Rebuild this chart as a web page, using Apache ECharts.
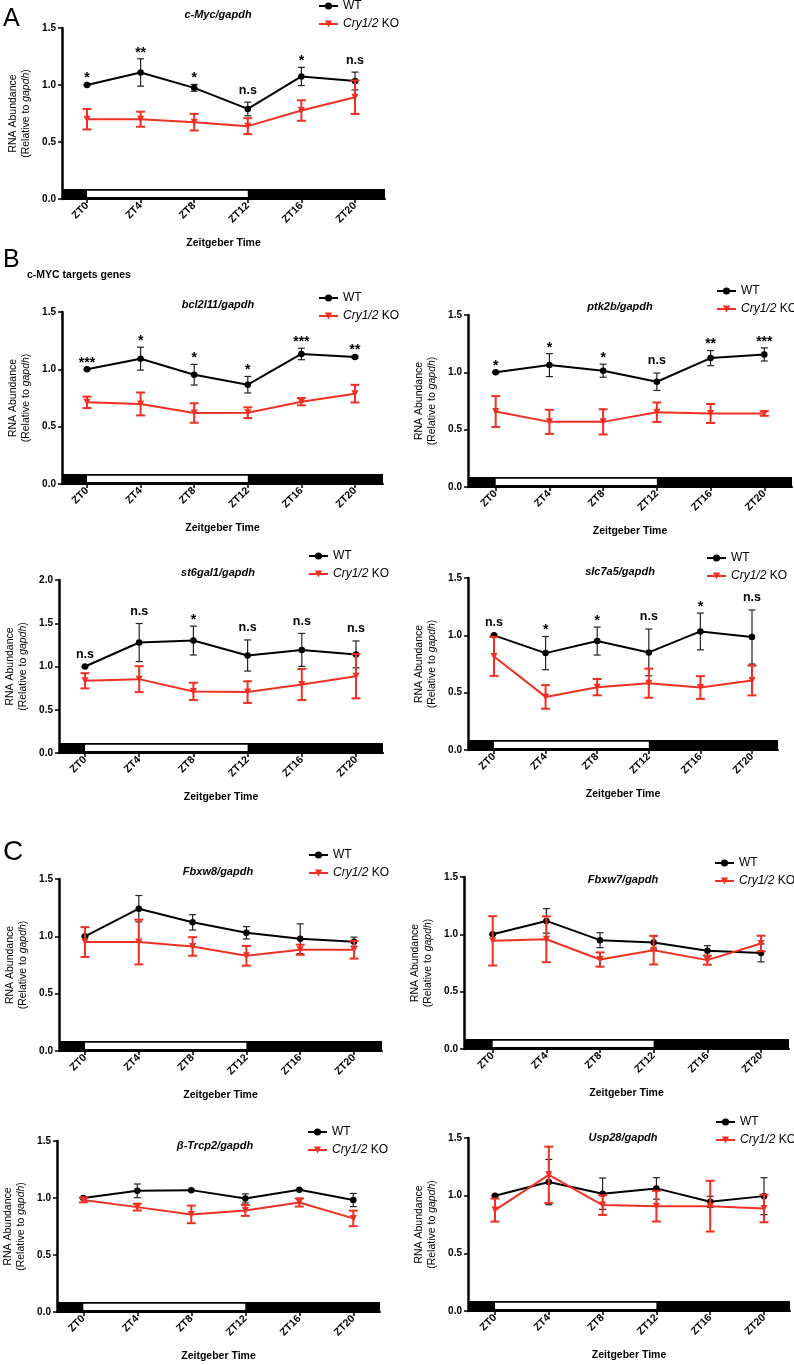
<!DOCTYPE html>
<html><head><meta charset="utf-8">
<script src="https://cdn.jsdelivr.net/npm/echarts@6/dist/echarts.min.js"></script>
<style>html,body{margin:0;padding:0;background:#fff}#c{width:794px;height:1365px}</style>
</head><body><div id="c"></div>
<script>
// ---------------- DATA ----------------
const zt = [0, 4, 8, 12, 16, 20];
const lightPhase = [0, 12];
const seriesNames = ['WT', 'Cry1/2 KO'];

const cmycWT = [1.00, 1.11, 0.975, 0.79, 1.075, 1.035];
const cmycWTerr = [0.005, 0.12, 0.03, 0.06, 0.08, 0.078];
const cmycKO = [0.70, 0.70, 0.674, 0.639, 0.776, 0.893];
const cmycKOerr = [0.09, 0.066, 0.073, 0.07, 0.09, 0.147];
const cmycSig = ['*', '**', '*', 'n.s', '*', 'n.s'];

const bclWT = [1.00, 1.093, 0.953, 0.866, 1.134, 1.108];
const bclWTerr = [0.005, 0.10, 0.09, 0.072, 0.05, 0.01];
const bclKO = [0.712, 0.698, 0.619, 0.622, 0.718, 0.788];
const bclKOerr = [0.05, 0.10, 0.085, 0.047, 0.032, 0.077];
const bclSig = ['***', '*', '*', '*', '***', '**'];

const ptkWT = [1.00, 1.063, 1.014, 0.918, 1.124, 1.156];
const ptkWTerr = [0.005, 0.10, 0.057, 0.076, 0.066, 0.057];
const ptkKO = [0.658, 0.568, 0.568, 0.652, 0.641, 0.641];
const ptkKOerr = [0.135, 0.105, 0.11, 0.085, 0.083, 0.02];
const ptkSig = ['*', '*', '*', 'n.s', '**', '***'];

const st6WT = [1.00, 1.277, 1.30, 1.127, 1.192, 1.14];
const st6WTerr = [0.005, 0.22, 0.167, 0.18, 0.19, 0.155];
const st6KO = [0.835, 0.854, 0.712, 0.704, 0.792, 0.888];
const st6KOerr = [0.088, 0.15, 0.10, 0.125, 0.18, 0.256];
const st6Sig = ['n.s', 'n.s', '*', 'n.s', 'n.s', 'n.s'];

const slcWT = [1.00, 0.845, 0.95, 0.851, 1.034, 0.985];
const slcWTerr = [0.005, 0.145, 0.122, 0.204, 0.16, 0.236];
const slcKO = [0.816, 0.463, 0.548, 0.583, 0.545, 0.606];
const slcKOerr = [0.17, 0.103, 0.071, 0.127, 0.099, 0.13];
const slcSig = ['n.s', '*', '*', 'n.s', '*', 'n.s'];

const fbxw8WT = [1.00, 1.241, 1.122, 1.031, 0.979, 0.953];
const fbxw8WTerr = [0.005, 0.115, 0.067, 0.054, 0.13, 0.04];
const fbxw8KO = [0.95, 0.95, 0.912, 0.83, 0.883, 0.883];
const fbxw8KOerr = [0.13, 0.195, 0.081, 0.086, 0.044, 0.077];

const fbxw7WT = [1.00, 1.117, 0.949, 0.928, 0.856, 0.838];
const fbxw7WTerr = [0.005, 0.107, 0.065, 0.058, 0.045, 0.078];
const fbxw7KO = [0.943, 0.957, 0.78, 0.862, 0.775, 0.92];
const fbxw7KOerr = [0.215, 0.20, 0.062, 0.125, 0.04, 0.068];

const btrcpWT = [1.00, 1.063, 1.069, 0.996, 1.072, 0.982];
const btrcpWTerr = [0.005, 0.06, 0.005, 0.04, 0.005, 0.058];
const btrcpKO = [0.982, 0.92, 0.856, 0.891, 0.961, 0.821];
const btrcpKOerr = [0.02, 0.03, 0.077, 0.048, 0.036, 0.068];

const usp28WT = [1.00, 1.118, 1.017, 1.063, 0.947, 0.996];
const usp28WTerr = [0.005, 0.196, 0.136, 0.093, 0.048, 0.16];
const usp28KO = [0.875, 1.181, 0.918, 0.909, 0.909, 0.889];
const usp28KOerr = [0.10, 0.244, 0.085, 0.133, 0.22, 0.12];

// ---------------- LAYOUT ----------------
const FONT = '"Liberation Sans", Arial, Helvetica, sans-serif';
const RED = '#ee3124';
const panels = [
  {title: 'c-Myc/gapdh', wt: cmycWT, wtErr: cmycWTerr, ko: cmycKO, koErr: cmycKOerr, sig: cmycSig, yMax: 1.5,
   grid: {left: 62, top: 28, w: 323, h: 171}, x0: 87, x20: 355, tc: [218, 15], lg: [318, 0]},
  {title: 'bcl2l11/gapdh', wt: bclWT, wtErr: bclWTerr, ko: bclKO, koErr: bclKOerr, sig: bclSig, yMax: 1.5,
   grid: {left: 62, top: 312, w: 321, h: 172}, x0: 87, x20: 355, tc: [218, 305], lg: [318, 292]},
  {title: 'ptk2b/gapdh', wt: ptkWT, wtErr: ptkWTerr, ko: ptkKO, koErr: ptkKOerr, sig: ptkSig, yMax: 1.5,
   grid: {left: 468, top: 315, w: 324, h: 172}, x0: 495.7, x20: 764.3, tc: [620, 307], lg: [716, 285]},
  {title: 'st6gal1/gapdh', wt: st6WT, wtErr: st6WTerr, ko: st6KO, koErr: st6KOerr, sig: st6Sig, yMax: 2.0,
   grid: {left: 59, top: 580, w: 324, h: 173}, x0: 85, x20: 356, tc: [218, 573], lg: [308, 550]},
  {title: 'slc7a5/gapdh', wt: slcWT, wtErr: slcWTerr, ko: slcKO, koErr: slcKOerr, sig: slcSig, yMax: 1.5,
   grid: {left: 468, top: 578, w: 310, h: 172}, x0: 494, x20: 752, tc: [620, 572], lg: [706, 552]},
  {title: 'Fbxw8/gapdh', wt: fbxw8WT, wtErr: fbxw8WTerr, ko: fbxw8KO, koErr: fbxw8KOerr, sig: null, yMax: 1.5,
   grid: {left: 59, top: 879, w: 323, h: 172}, x0: 85, x20: 354, tc: [218, 872], lg: [308, 849]},
  {title: 'Fbxw7/gapdh', wt: fbxw7WT, wtErr: fbxw7WTerr, ko: fbxw7KO, koErr: fbxw7KOerr, sig: null, yMax: 1.5,
   grid: {left: 464, top: 877, w: 325, h: 172}, x0: 492.7, x20: 761, tc: [623, 880], lg: [714, 857]},
  {title: 'β-Trcp2/gapdh', wt: btrcpWT, wtErr: btrcpWTerr, ko: btrcpKO, koErr: btrcpKOerr, sig: null, yMax: 1.5,
   grid: {left: 57, top: 1141, w: 323, h: 171}, x0: 83.3, x20: 353.3, tc: [215, 1146], lg: [307, 1126]},
  {title: 'Usp28/gapdh', wt: usp28WT, wtErr: usp28WTerr, ko: usp28KO, koErr: usp28KOerr, sig: null, yMax: 1.5,
   grid: {left: 468, top: 1138, w: 322, h: 173}, x0: 495, x20: 764, tc: [623, 1138], lg: [715, 1116]}
];

// ---------------- BUILD ----------------
const grids = [], xAxes = [], yAxes = [], series = [], legends = [], graphics = [];

function errRender(color, lw, cap) {
  return function (params, api) {
    const x = api.value(0), m = api.value(1), e = api.value(2);
    const t = api.coord([x, m + e]), b = api.coord([x, m - e]);
    const st = {stroke: color, lineWidth: lw, fill: null};
    return {type: 'group', children: [
      {type: 'line', shape: {x1: t[0], y1: t[1], x2: b[0], y2: b[1]}, style: st},
      {type: 'line', shape: {x1: t[0] - cap / 2, y1: t[1], x2: t[0] + cap / 2, y2: t[1]}, style: st},
      {type: 'line', shape: {x1: b[0] - cap / 2, y1: b[1], x2: b[0] + cap / 2, y2: b[1]}, style: st}
    ]};
  };
}

panels.forEach((p, i) => {
  const pxPerHr = (p.x20 - p.x0) / 20;
  const xMin = -(p.x0 - p.grid.left) / pxPerHr;
  const xMax = (p.grid.left + p.grid.w - p.x0) / pxPerHr;
  grids.push({left: p.grid.left, top: p.grid.top, width: p.grid.w, height: p.grid.h, containLabel: false});
  xAxes.push({
    gridIndex: i, type: 'value', min: xMin, max: xMax,
    name: 'Zeitgeber Time', nameLocation: 'middle', nameGap: 39,
    nameTextStyle: {fontFamily: FONT, fontWeight: 'bold', fontSize: 10.5, color: '#000'},
    axisLine: {show: true, onZero: false, lineStyle: {color: '#000', width: 2}},
    axisTick: {show: true, customValues: zt, length: 4, lineStyle: {color: '#000', width: 1.5}},
    axisLabel: {show: true, customValues: zt, rotate: 45, margin: 5, formatter: v => 'ZT' + v,
      fontFamily: FONT, fontWeight: 'bold', fontSize: 10.5, color: '#000'},
    splitLine: {show: false}
  });
  yAxes.push({
    gridIndex: i, type: 'value', min: 0, max: p.yMax, interval: 0.5,
    name: 'RNA Abundance\n(Relative to {i|gapdh})', nameLocation: 'middle', nameRotate: 90, nameGap: 29,
    nameTextStyle: {fontFamily: FONT, fontSize: 10.5, lineHeight: 13, color: '#000',
      rich: {i: {fontFamily: FONT, fontSize: 10.5, fontStyle: 'italic', color: '#000'}}},
    axisLine: {show: true, onZero: false, lineStyle: {color: '#000', width: 2.5}},
    axisTick: {show: true, length: 4, lineStyle: {color: '#000', width: 1.5}},
    axisLabel: {formatter: v => v.toFixed(1), fontFamily: FONT, fontWeight: 'bold', fontSize: 10, color: '#000', margin: 6},
    splitLine: {show: false}
  });
  // light/dark bar
  series.push({
    type: 'custom', xAxisIndex: i, yAxisIndex: i, silent: true, z: 1, clip: false,
    data: [[lightPhase[0], lightPhase[1]]],
    encode: {x: [0, 1]},
    renderItem: function (params, api) {
      const cs = params.coordSys;
      const y0 = api.coord([0, 0])[1];
      const a = api.coord([api.value(0), 0])[0], b = api.coord([api.value(1), 0])[0];
      return {type: 'group', children: [
        {type: 'rect', shape: {x: cs.x, y: y0 - 10, width: cs.width, height: 10}, style: {fill: '#000'}},
        {type: 'rect', shape: {x: a, y: y0 - 8.3, width: b - a, height: 6.4}, style: {fill: '#fff'}}
      ]};
    }
  });
  const wtData = zt.map((x, j) => [x, p.wt[j]]);
  const koData = zt.map((x, j) => [x, p.ko[j]]);
  series.push({
    name: 'WT', type: 'line', xAxisIndex: i, yAxisIndex: i, data: wtData, z: 3,
    symbol: 'circle', symbolSize: 6.5, itemStyle: {color: '#000'}, lineStyle: {color: '#000', width: 2},
    animation: false
  });
  series.push({
    type: 'custom', xAxisIndex: i, yAxisIndex: i, z: 3, silent: true,
    data: zt.map((x, j) => [x, p.wt[j], p.wtErr[j]]), encode: {x: 0, y: 1},
    renderItem: errRender('#222', 1.2, 7)
  });
  series.push({
    name: 'Cry1/2 KO', type: 'line', xAxisIndex: i, yAxisIndex: i, data: koData, z: 4,
    symbol: 'triangle', symbolRotate: 180, symbolSize: 7, itemStyle: {color: RED}, lineStyle: {color: RED, width: 2},
    animation: false
  });
  series.push({
    type: 'custom', xAxisIndex: i, yAxisIndex: i, z: 4, silent: true,
    data: zt.map((x, j) => [x, p.ko[j], p.koErr[j]]), encode: {x: 0, y: 1},
    renderItem: errRender(RED, 2, 9)
  });
  if (p.sig) {
    const sig = p.sig;
    series.push({
      type: 'custom', xAxisIndex: i, yAxisIndex: i, z: 5, silent: true, clip: false,
      data: zt.map((x, j) => [x, p.wt[j] + p.wtErr[j]]), encode: {x: 0, y: 1},
      renderItem: function (params, api) {
        const c = api.coord([api.value(0), api.value(1)]);
        const s = sig[params.dataIndex];
        const star = s.indexOf('*') >= 0;
        return {type: 'text', x: c[0], y: c[1] - (star ? 6 : 12),
          style: {text: s, align: 'center', verticalAlign: 'middle', fontFamily: FONT,
            fontWeight: 'bold', fontSize: star ? 14 : 12.5, fill: '#000'}};
      }
    });
  }
  legends.push({
    data: seriesNames, orient: 'vertical', left: p.lg[0], top: p.lg[1], padding: 0,
    itemWidth: 19, itemHeight: 9, itemGap: 6, selectedMode: false,
    formatter: n => n === 'WT' ? 'WT' : '{i|Cry1/2} KO',
    textStyle: {fontFamily: FONT, fontSize: 12, color: '#000',
      rich: {i: {fontFamily: FONT, fontSize: 12, fontStyle: 'italic', color: '#000'}}}
  });
  graphics.push({
    type: 'text', x: p.tc[0], y: p.tc[1],
    style: {text: p.title, align: 'center', verticalAlign: 'middle', fontFamily: FONT,
      fontWeight: 'bold', fontStyle: 'italic', fontSize: 11, fill: '#000'}
  });
});

graphics.push({type: 'text', x: 3, y: 19, style: {text: 'A', verticalAlign: 'middle', fontFamily: FONT, fontSize: 25, fill: '#000'}});
graphics.push({type: 'text', x: 3, y: 260, style: {text: 'B', verticalAlign: 'middle', fontFamily: FONT, fontSize: 25, fill: '#000'}});
graphics.push({type: 'text', x: 27, y: 275, style: {text: 'c-MYC targets genes', verticalAlign: 'middle', fontFamily: FONT, fontWeight: 'bold', fontSize: 10.5, fill: '#000'}});
graphics.push({type: 'text', x: 3, y: 852, style: {text: 'C', verticalAlign: 'middle', fontFamily: FONT, fontSize: 28, fill: '#000'}});

const chart = echarts.init(document.getElementById('c'), null, {renderer: 'canvas'});
chart.setOption({
  animation: false,
  backgroundColor: '#fff',
  grid: grids, xAxis: xAxes, yAxis: yAxes, series: series, legend: legends, graphic: graphics
});
</script>
</body></html>
